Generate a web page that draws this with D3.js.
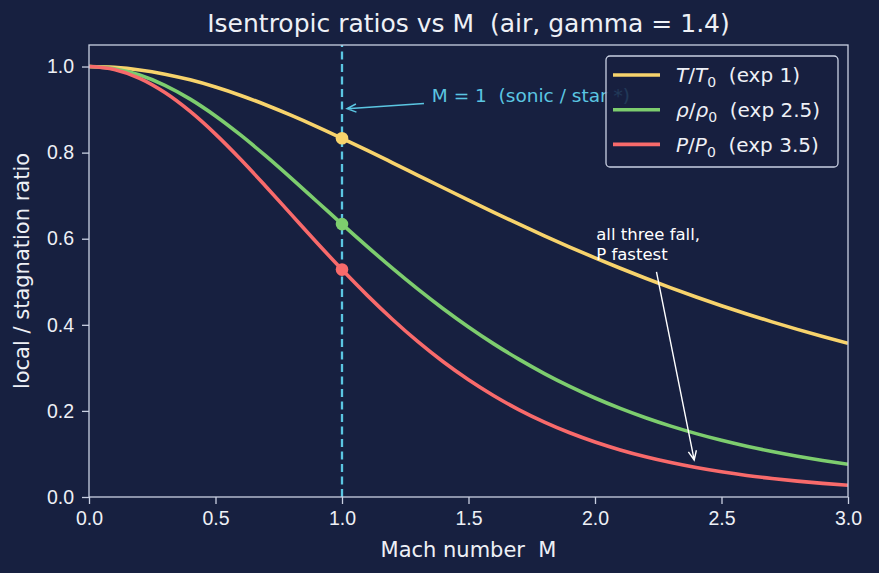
<!DOCTYPE html>
<html>
<head>
<meta charset="utf-8">
<script src="https://cdn.jsdelivr.net/npm/d3@7/dist/d3.min.js"></script>
<style>
  body { margin: 0; background: #172040; }
  svg { display: block; font-family: "DejaVu Sans", sans-serif; }
</style>
</head>
<body>
<div id="container"></div>
<script>
// Mach numbers sampled every 0.1
var machValues = [0.0, 0.1, 0.2, 0.3, 0.4, 0.5, 0.6, 0.7, 0.8, 0.9, 1.0,
  1.1, 1.2, 1.3, 1.4, 1.5, 1.6, 1.7, 1.8, 1.9, 2.0,
  2.1, 2.2, 2.3, 2.4, 2.5, 2.6, 2.7, 2.8, 2.9, 3.0];

// T/T0
var tempRatio = [1.0000, 0.9980, 0.9921, 0.9823, 0.9690, 0.9524, 0.9328, 0.9107, 0.8865, 0.8606, 0.8333,
  0.8052, 0.7764, 0.7474, 0.7184, 0.6897, 0.6614, 0.6337, 0.6068, 0.5807, 0.5556,
  0.5313, 0.5081, 0.4859, 0.4647, 0.4444, 0.4252, 0.4068, 0.3894, 0.3729, 0.3571];

// rho/rho0
var densRatio = [1.0000, 0.9950, 0.9803, 0.9564, 0.9243, 0.8852, 0.8405, 0.7916, 0.7400, 0.6870, 0.6339,
  0.5817, 0.5311, 0.4829, 0.4374, 0.3950, 0.3557, 0.3197, 0.2868, 0.2570, 0.2300,
  0.2058, 0.1841, 0.1646, 0.1472, 0.1317, 0.1179, 0.1056, 0.0946, 0.0849, 0.0762];

// P/P0
var presRatio = [1.0000, 0.9930, 0.9725, 0.9395, 0.8956, 0.8430, 0.7840, 0.7209, 0.6560, 0.5913, 0.5283,
  0.4684, 0.4124, 0.3609, 0.3142, 0.2724, 0.2353, 0.2026, 0.1740, 0.1492, 0.1278,
  0.1094, 0.0935, 0.0800, 0.0684, 0.0585, 0.0501, 0.0430, 0.0368, 0.0317, 0.0272];

var xTicks = [0.0, 0.5, 1.0, 1.5, 2.0, 2.5, 3.0];
var yTicks = [0.0, 0.2, 0.4, 0.6, 0.8, 1.0];

// values at M = 1 (sonic point markers)
var sonicMach = 1.0;
var sonicValues = [0.8333, 0.6339, 0.5283];

var seriesNames = ["T", "rho", "P"];
var seriesExps = ["1", "2.5", "3.5"];
var seriesColors = ["#f7d36c", "#7dcd6e", "#f86a6b"];

var bg = "#172040";
var fg = "#eef0f6";
var spine = "#c9d0e2";
var cyan = "#5bc6e2";

var width = 879, height = 573;
// careful: "top" is window.top, so plot edges get their own names
var plotLeft = 89, plotRight = 848, plotTop = 45, plotBottom = 497;

var svg = d3.select("#container").append("svg")
  .attr("width", width)
  .attr("height", height);

svg.append("rect").attr("width", width).attr("height", height).attr("fill", bg);

var x = d3.scaleLinear().domain([0, 3]).range([plotLeft, plotRight]);
var y = d3.scaleLinear().domain([0, 1.05]).range([plotBottom, plotTop]);

// axes
var xAxis = d3.axisBottom(x).tickValues(xTicks).tickFormat(d3.format(".1f"))
  .tickSize(7).tickSizeOuter(0).tickPadding(7);
var yAxis = d3.axisLeft(y).tickValues(yTicks).tickFormat(d3.format(".1f"))
  .tickSize(7).tickSizeOuter(0).tickPadding(8);

var gx = svg.append("g").attr("transform", "translate(0," + plotBottom + ")").call(xAxis);
var gy = svg.append("g").attr("transform", "translate(" + plotLeft + ",0)").call(yAxis);

[gx, gy].forEach(function(g){
  g.select(".domain").remove();
  g.selectAll(".tick line").attr("stroke", spine).attr("stroke-width", 1.3);
  g.selectAll(".tick text").attr("fill", fg).style("font-size", "19.5px");
});

// sonic line
svg.append("line")
  .attr("x1", x(sonicMach)).attr("x2", x(sonicMach))
  .attr("y1", y(0)).attr("y2", y(1.05))
  .attr("stroke", cyan)
  .attr("stroke-width", 2.3)
  .attr("stroke-dasharray", "8,4.5");

// curves
var allSeries = [tempRatio, densRatio, presRatio];
var line = d3.line()
  .x(function(d, i){ return x(machValues[i]); })
  .y(function(d){ return y(d); })
  .curve(d3.curveMonotoneX);

svg.append("defs").append("clipPath").attr("id", "plotclip")
  .append("rect").attr("x", plotLeft).attr("y", plotTop)
  .attr("width", plotRight - plotLeft).attr("height", plotBottom - plotTop);

svg.append("g").attr("clip-path", "url(#plotclip)")
  .selectAll("path.curve")
  .data(allSeries)
  .enter()
  .append("path")
  .attr("class", "curve")
  .attr("d", line)
  .attr("fill", "none")
  .attr("stroke", function(d, i){ return seriesColors[i]; })
  .attr("stroke-width", 3.6)
  .attr("stroke-linecap", "butt");

svg.selectAll("circle.sonic")
  .data(sonicValues)
  .enter()
  .append("circle")
  .attr("class", "sonic")
  .attr("cx", x(sonicMach))
  .attr("cy", function(d){ return y(d); })
  .attr("r", 6.3)
  .attr("fill", function(d, i){ return seriesColors[i]; });

// frame
svg.append("rect")
  .attr("x", plotLeft).attr("y", plotTop)
  .attr("width", plotRight - plotLeft).attr("height", plotBottom - plotTop)
  .attr("fill", "none")
  .attr("stroke", spine)
  .attr("stroke-width", 1.3);

// open arrow: line plus chevron at the head
function arrow(x0, y0, x1, y1, color, w){
  var a = Math.atan2(y1 - y0, x1 - x0);
  var len = 10, spread = 0.42;
  var p = "M" + x0 + "," + y0 + "L" + x1 + "," + y1 +
    "M" + (x1 - len * Math.cos(a - spread)) + "," + (y1 - len * Math.sin(a - spread)) +
    "L" + x1 + "," + y1 +
    "L" + (x1 - len * Math.cos(a + spread)) + "," + (y1 - len * Math.sin(a + spread));
  svg.append("path").attr("d", p).attr("fill", "none")
    .attr("stroke", color).attr("stroke-width", w)
    .attr("stroke-linejoin", "miter");
}

// sonic annotation
svg.append("text")
  .attr("x", x(1.355)).attr("y", y(0.917))
  .attr("fill", cyan)
  .style("font-size", "18.5px")
  .style("white-space", "pre")
  .text("M = 1  (sonic / star *)");
arrow(x(1.324), y(0.914), x(1.02), y(0.902), cyan, 1.5);

// "all three fall" annotation
var note = svg.append("text")
  .attr("x", x(2.005)).attr("y", y(0.596))
  .attr("fill", "#ffffff")
  .style("font-size", "16.5px");
note.append("tspan").attr("x", x(2.005)).text("all three fall,");
note.append("tspan").attr("x", x(2.005)).attr("dy", 20).text("P fastest");
arrow(x(2.243), y(0.523), x(2.392), y(0.086), "#ffffff", 1.4);

// legend
var leg = svg.append("g");
leg.append("rect")
  .attr("x", 606).attr("y", 56)
  .attr("width", 232).attr("height", 111)
  .attr("rx", 4)
  .attr("fill", bg).attr("fill-opacity", 0.85)
  .attr("stroke", spine).attr("stroke-width", 1.3);

seriesNames.forEach(function(name, i){
  var ly = 75 + i * 34.7;
  leg.append("line")
    .attr("x1", 613).attr("x2", 660)
    .attr("y1", ly).attr("y2", ly)
    .attr("stroke", seriesColors[i]).attr("stroke-width", 3.6);
  var t = leg.append("text")
    .attr("x", 676).attr("y", ly).attr("dy", "0.36em")
    .attr("fill", fg)
    .style("font-size", "20px")
    .style("white-space", "pre");
  var sym = name == "rho" ? "\u03c1" : name;
  t.append("tspan").style("font-style", "italic").text(sym);
  t.append("tspan").text("/");
  t.append("tspan").style("font-style", "italic").text(sym);
  t.append("tspan").attr("dy", 5).style("font-size", "14px").text("0");
  t.append("tspan").attr("dy", -5).text("  (exp " + seriesExps[i] + ")");
});

// titles
svg.append("text")
  .attr("x", (plotLeft + plotRight) / 2).attr("y", 32)
  .attr("text-anchor", "middle")
  .attr("fill", fg)
  .style("font-size", "25px")
  .style("white-space", "pre")
  .text("Isentropic ratios vs M  (air, gamma = 1.4)");

svg.append("text")
  .attr("x", (plotLeft + plotRight) / 2).attr("y", 557)
  .attr("text-anchor", "middle")
  .attr("fill", fg)
  .style("font-size", "21px")
  .style("white-space", "pre")
  .text("Mach number  M");

svg.append("text")
  .attr("transform", "translate(28.5," + ((plotTop + plotBottom) / 2) + ") rotate(-90)")
  .attr("text-anchor", "middle")
  .attr("fill", fg)
  .style("font-size", "21px")
  .text("local / stagnation ratio");
</script>
</body>
</html>
